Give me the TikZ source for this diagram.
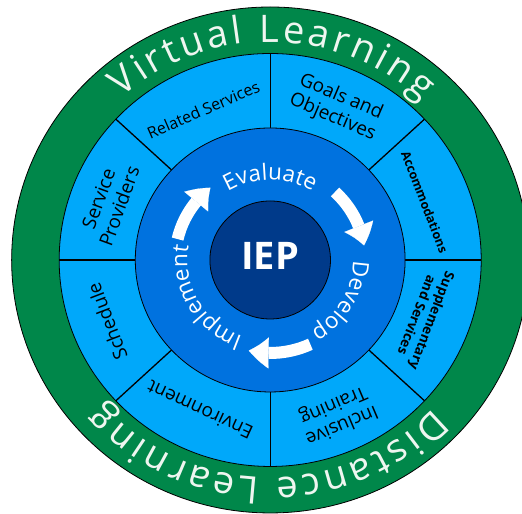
\documentclass[tikz,border=0pt]{standalone}
\usepackage{fontspec}
\setmainfont{Open Sans}
\usetikzlibrary{decorations.text,arrows.meta,bending}
\definecolor{ringgreen}{HTML}{00874A}
\definecolor{ringlight}{HTML}{00A8FA}
\definecolor{ringmid}{HTML}{0072DF}
\definecolor{ringdark}{HTML}{003A8A}
\definecolor{ringtext}{HTML}{EEF6F0}
\begin{document}
\begin{tikzpicture}[x=1.022pt,y=1pt,
    seg/.style={align=center,font=\fontsize{19}{22}\selectfont},
    segb/.style={align=center,font=\bfseries\fontsize{13.5}{16}\selectfont},
    cyc/.style={line width=12pt,white,-{Triangle[length=20pt,width=31pt,line width=0.1pt,bend]}},
    outer/.style={decorate,decoration={text along path,text align={fit to path},text color=ringtext}},
    inner/.style={decorate,decoration={text along path,text align=center,text color=white}}]
    \useasboundingbox (-264.4,-254) rectangle (246.4,260);
    \draw[fill=ringgreen,line width=0.8pt] (0,0) circle (253);
    \draw[fill=ringlight,line width=0.8pt] (0,0) circle (206.5);
    \foreach \a in {0,43,90,137,180,223,270,317}
    {
    \draw[line width=1.3pt] (\a:132) -- (\a:206.5);
    }
    \draw[fill=ringmid,line width=0.8pt] (0,0) circle (132);
    \draw[fill=ringdark,line width=0.8pt] (0,0) circle (59);
    \node[font=\bfseries\fontsize{38}{38}\selectfont,text=white] (iep) at (0,4) {IEP};
    \path[outer,decoration={text={|\fontsize{38}{44}\selectfont|Virtual Learning}}]
        (131.8:218) arc[start angle=131.8,end angle=47,radius=218];
    \path[outer,decoration={text={|\fontsize{38}{44}\selectfont|Distance Learning}}]
        (-43:218) arc[start angle=-43,end angle=-138.8,radius=218];
    \path[inner,decoration={text={|\fontsize{22.5}{27}\selectfont|Evaluate}}]
        (150:80) arc[start angle=150,end angle=30,radius=80];
    \path[inner,decoration={text={|\fontsize{22.5}{27}\selectfont|Develop}}]
        (30:81) arc[start angle=30,end angle=-90,radius=81];
    \path[inner,decoration={text={|\fontsize{22.5}{27}\selectfont|Implement}}]
        (285:81) arc[start angle=285,end angle=135,radius=81];
    \draw[cyc] (167:93) arc[start angle=167,end angle=129,radius=93];
    \draw[cyc] (47:93) arc[start angle=47,end angle=9,radius=93];
    \draw[cyc] (-65:93) arc[start angle=-65,end angle=-103,radius=93];
    \node[seg,font=\fontsize{16}{19}\selectfont,rotate=23.5] (related) at (113.5:164) {Related Services};
    \node[seg,rotate=-23.1] (goals) at (66.9:166) {Goals and\\Objectives};
    \node[segb,font=\bfseries\fontsize{12.5}{15}\selectfont,rotate=-69] (accom) at (21:162) {Accommodations};
    \node[segb,rotate=-111] (suppl) at (-21:162) {Supplementary\\and Services};
    \node[seg,rotate=-157] (inclusive) at (-67:168) {Inclusive\\Training};
    \node[seg,rotate=155.4] (environ) at (-114.6:165) {Environment};
    \node[seg,rotate=111] (schedule) at (201:171) {Schedule};
    \node[seg,rotate=70] (service) at (160:168) {Service\\Providers};
\end{tikzpicture}
\end{document}
